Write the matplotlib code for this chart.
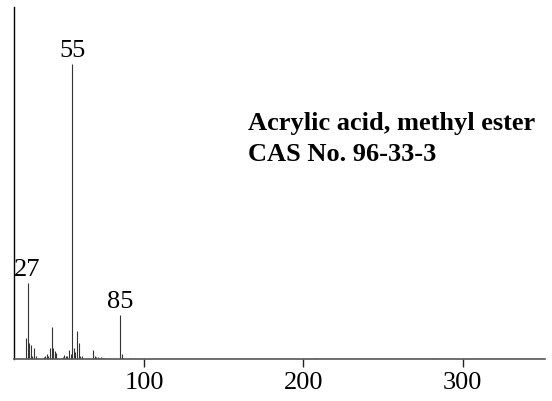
import matplotlib
matplotlib.use("Agg")
import matplotlib.pyplot as plt

plt.rcParams["font.family"] = ["Liberation Serif", "DejaVu Serif"]

# EI mass spectrum of methyl acrylate (relative intensity, base peak = 100)
mz = [15, 26, 27, 28, 29, 30, 31, 32, 37, 38, 39, 40, 41, 42, 43, 44, 45,
      49, 50, 51, 52, 53, 54, 55, 56, 57, 58, 59, 60, 61, 68, 69, 70, 71,
      72, 73, 74, 75, 85, 86, 87, 91, 207, 281]
intensity = [1.0, 6.9, 25.6, 5.2, 4.6, 1.0, 3.5, 1.0, 0.6, 0.8, 1.6, 1.0,
             3.5, 10.9, 3.5, 2.7, 2.0, 0.6, 1.2, 1.0, 0.8, 3.0, 1.6, 100.0,
             3.7, 2.4, 9.4, 5.4, 1.0, 0.8, 3.0, 1.0, 0.5, 0.5, 0.4, 0.5,
             0.4, 0.4, 14.8, 1.6, 0.4, 0.3, 0.3, 0.3]

labelled = [27, 55, 85]
title_lines = ["Acrylic acid, methyl ester", "CAS No. 96-33-3"]
xticks = [100, 200, 300]

fig = plt.figure(figsize=(5.52, 4.01), dpi=100)
ax = fig.add_axes([0.026, 0.1055, 0.961, 0.8775])

ax.vlines(mz, 0, intensity, colors="#333333", linewidth=0.8)

for m in labelled:
    y = intensity[mz.index(m)]
    ax.annotate(str(m), xy=(m, y), xytext=(0, 1.5), textcoords="offset points",
                ha="center", va="bottom", fontsize=19)

# compound name and CAS number, one baseline per line
for line, yb in zip(title_lines, [0.650, 0.562]):
    ax.text(0.440, yb, line, transform=ax.transAxes, ha="left",
            va="baseline", fontsize=19, fontweight="bold")

ax.set_xlim(18.7, 351.4)
ax.set_ylim(0, 119.5)
ax.set_xticks(xticks)
ax.set_xticklabels([str(t) for t in xticks], fontsize=19)
ax.set_yticks([])
ax.tick_params(axis="x", direction="out", length=6, width=1, pad=3.5,
               color="#222222")

for side in ("top", "right"):
    ax.spines[side].set_visible(False)
ax.spines["left"].set_color("black")
ax.spines["left"].set_linewidth(1.0)
ax.spines["bottom"].set_color("#555555")
ax.spines["bottom"].set_linewidth(1.2)

fig.savefig("out.png", dpi=100)
